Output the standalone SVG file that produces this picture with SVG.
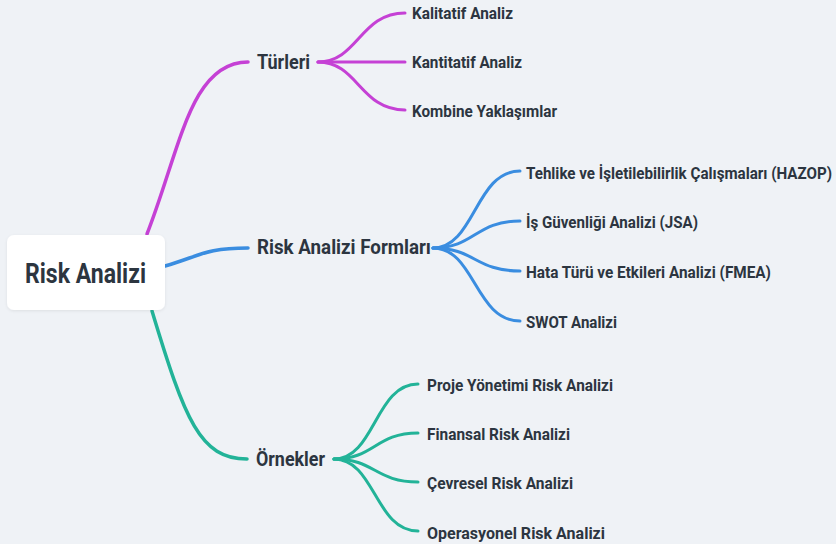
<svg xmlns="http://www.w3.org/2000/svg" width="839" height="547" viewBox="0 0 839 547">
<defs>
<style>
.t{font-family:Roboto,"Liberation Sans",sans-serif;font-weight:700;fill:#2c3540;}
.root{font-size:28px;}
.l1{font-size:20px;}
.l2{font-size:17px;}
.c{fill:none;stroke-linecap:round;}
.m{stroke-width:3.5;}
.s{stroke-width:3;}
.p{stroke:#c541d5;}
.b{stroke:#3a8de0;}
.g{stroke:#22b398;}
</style>
<filter id="sh" x="-10%" y="-20%" width="120%" height="140%">
<feDropShadow dx="0" dy="1" stdDeviation="1.5" flood-color="#000" flood-opacity="0.08"/>
</filter>
</defs>
<rect width="839" height="547" fill="#ffffff"/>
<rect width="836" height="544" fill="#eff2f6"/>
<g id="connectors">
<path class="c m p" d="M147,234 C180,150 190,62 248,62"/>
<path class="c m b" d="M165,266 C200,256 205,248 248,248"/>
<path class="c m g" d="M152,311 C185,420 200,459 247,459"/>
<path class="c s p" d="M318,62 C358,62 360,13 405,13"/>
<path class="c s p" d="M318,62 L405,62"/>
<path class="c s p" d="M318,62 C358,62 360,110 405,110"/>
<path class="c s b" d="M433,248 C475,248 475,171 520,171"/>
<path class="c s b" d="M433,248 C475,248 475,221 520,221"/>
<path class="c s b" d="M433,248 C475,248 475,271 520,271"/>
<path class="c s b" d="M433,248 C475,248 475,321 520,321"/>
<path class="c s g" d="M334,459 C375,459 375,384 418,384"/>
<path class="c s g" d="M334,459 C375,459 375,433 418,433"/>
<path class="c s g" d="M334,459 C375,459 375,482 418,482"/>
<path class="c s g" d="M334,459 C375,459 375,531 418,531"/>
</g>
<g id="root">
<rect x="7" y="235" width="158" height="75" rx="7" fill="#ffffff" filter="url(#sh)"/>
<text class="t root" x="25" y="283" textLength="121" lengthAdjust="spacingAndGlyphs">Risk Analizi</text>
</g>
<g id="turleri"><text class="t l1" x="257" y="69" textLength="53" lengthAdjust="spacingAndGlyphs">Türleri</text></g>
<g id="kalitatif"><text class="t l2" x="412" y="19" textLength="101" lengthAdjust="spacingAndGlyphs">Kalitatif Analiz</text></g>
<g id="kantitatif"><text class="t l2" x="412" y="68" textLength="110" lengthAdjust="spacingAndGlyphs">Kantitatif Analiz</text></g>
<g id="kombine"><text class="t l2" x="412" y="117" textLength="145" lengthAdjust="spacingAndGlyphs">Kombine Yaklaşımlar</text></g>
<g id="formlar"><text class="t l1" x="257" y="254" textLength="174" lengthAdjust="spacingAndGlyphs">Risk Analizi Formları</text></g>
<g id="hazop"><text class="t l2" transform="translate(526,179) scale(0.83,1)" x="0" y="0" textLength="368.7" lengthAdjust="spacingAndGlyphs">Tehlike ve İşletilebilirlik Çalışmaları (HAZOP)</text></g>
<g id="jsa"><text class="t l2" x="526" y="228" textLength="172" lengthAdjust="spacingAndGlyphs">İş Güvenliği Analizi (JSA)</text></g>
<g id="fmea"><text class="t l2" x="526" y="278" textLength="245" lengthAdjust="spacingAndGlyphs">Hata Türü ve Etkileri Analizi (FMEA)</text></g>
<g id="swot"><text class="t l2" x="526" y="328" textLength="91" lengthAdjust="spacingAndGlyphs">SWOT Analizi</text></g>
<g id="ornekler"><text class="t l1" x="256" y="466" textLength="69" lengthAdjust="spacingAndGlyphs">Örnekler</text></g>
<g id="proje"><text class="t l2" x="427" y="391" textLength="186" lengthAdjust="spacingAndGlyphs">Proje Yönetimi Risk Analizi</text></g>
<g id="finansal"><text class="t l2" x="427" y="440" textLength="143" lengthAdjust="spacingAndGlyphs">Finansal Risk Analizi</text></g>
<g id="cevresel"><text class="t l2" x="427" y="489" textLength="146" lengthAdjust="spacingAndGlyphs">Çevresel Risk Analizi</text></g>
<g id="operasyonel"><text class="t l2" x="427" y="539" textLength="178" lengthAdjust="spacingAndGlyphs">Operasyonel Risk Analizi</text></g>
</svg>
